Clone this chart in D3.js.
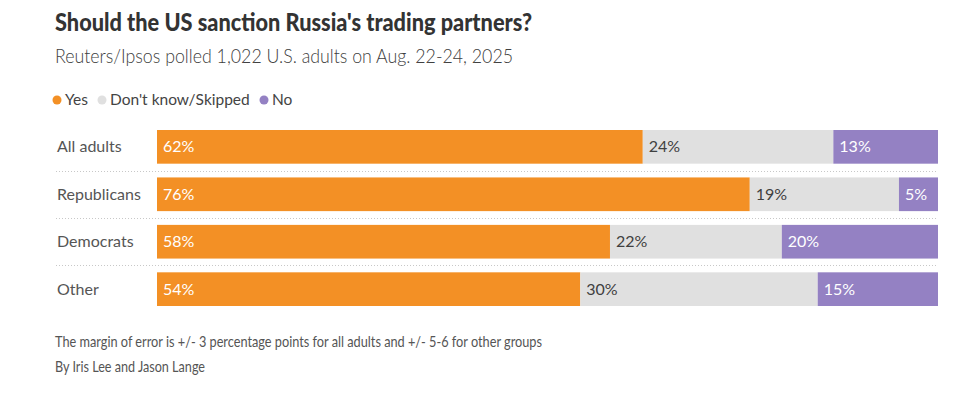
<!DOCTYPE html>
<html>
<head>
<meta charset="utf-8">
<script src="https://cdn.jsdelivr.net/npm/d3@7"></script>
<style>
  body { margin: 0; background: #fff; }
  text { font-family: Lato, "Open Sans", sans-serif; }
</style>
</head>
<body>
<div id="chart"></div>
<script>
// Poll data (shares, labels are the rounded numbers)
var groups = ["All adults", "Republicans", "Democrats", "Other"];
var yes = [62.2, 75.9, 58.0, 54.2];
var dontKnow = [24.4, 19.1, 22.0, 30.4];
var no = [13.4, 5.0, 20.0, 15.4];
var seriesNames = ["Yes", "Don't know/Skipped", "No"];
var seriesColors = ["#f39025", "#e0e0e0", "#9481c3"];
var labelColors = ["#ffffff", "#404040", "#ffffff"];

var svgWidth = 980;
var svgHeight = 395;

var svg = d3.select("#chart")
  .append("svg")
  .attr("width", svgWidth)
  .attr("height", svgHeight);

// Title + subtitle (the original font is narrower, so squeeze to its width)
svg.append("text")
  .attr("x", 55).attr("y", 31)
  .attr("font-size", "24px")
  .attr("font-weight", 900)
  .attr("fill", "#333")
  .attr("textLength", 477)
  .attr("lengthAdjust", "spacingAndGlyphs")
  .text("Should the US sanction Russia's trading partners?");

svg.append("text")
  .attr("x", 55).attr("y", 63)
  .attr("font-size", "20px")
  .attr("font-weight", 300)
  .attr("fill", "#404040")
  .attr("textLength", 458)
  .attr("lengthAdjust", "spacingAndGlyphs")
  .text("Reuters/Ipsos polled 1,022 U.S. adults on Aug. 22-24, 2025");

// Legend
var legendX = [57, 102, 264];
var legend = svg.append("g").selectAll("g")
  .data(seriesNames)
  .enter()
  .append("g")
  .attr("transform", function(d, i) { return "translate(" + legendX[i] + ",100)"; });

legend.append("circle")
  .attr("r", 4.5)
  .attr("fill", function(d, i) { return seriesColors[i]; });

legend.append("text")
  .attr("x", 8)
  .attr("dy", "0.35em")
  .attr("font-size", "15.5px")
  .attr("fill", "#444")
  .text(function(d) { return d; });

// Scales
var xScale = d3.scaleLinear().domain([0, 100]).range([157, 938]);
var yScale = d3.scaleBand().domain(groups).range([130, 306]).paddingInner(0.29).paddingOuter(0);

var rows = groups.map(function(g, i) {
  return { group: g, yes: yes[i], dk: dontKnow[i], no: no[i] };
});
var stack = d3.stack().keys(["yes", "dk", "no"]);
var stacked = stack(rows);

// Dotted separators between rows
var gap = yScale.step() - yScale.bandwidth();
svg.append("g").selectAll("line")
  .data(groups.slice(0, -1))
  .enter()
  .append("line")
  .attr("x1", 56)
  .attr("x2", xScale(100))
  .attr("y1", function(d) { return Math.round(yScale(d) + yScale.bandwidth() + gap / 2) + 0.5; })
  .attr("y2", function(d) { return Math.round(yScale(d) + yScale.bandwidth() + gap / 2) + 0.5; })
  .attr("stroke", "#c8c8c8")
  .attr("stroke-width", 1)
  .attr("stroke-dasharray", "1,2");

// Row labels
svg.append("g").selectAll("text")
  .data(groups)
  .enter()
  .append("text")
  .attr("x", 57)
  .attr("y", function(d) { return yScale(d) + yScale.bandwidth() / 2; })
  .attr("dy", "0.35em")
  .attr("font-size", "16px")
  .attr("fill", "#555")
  .text(function(d) { return d; });

// Bars
var layers = svg.append("g").selectAll("g")
  .data(stacked)
  .enter()
  .append("g")
  .attr("fill", function(d, i) { return seriesColors[i]; });

layers.selectAll("rect")
  .data(function(d) { return d; })
  .enter()
  .append("rect")
  .attr("x", function(d) { return xScale(d[0]); })
  .attr("y", function(d) { return yScale(d.data.group); })
  .attr("width", function(d) { return xScale(d[1]) - xScale(d[0]); })
  .attr("height", yScale.bandwidth());

// Value labels
layers.each(function(layer, li) {
  d3.select(this).selectAll("text")
    .data(layer)
    .enter()
    .append("text")
    .attr("x", function(d) { return xScale(d[0]) + 6; })
    .attr("y", function(d) { return yScale(d.data.group) + yScale.bandwidth() / 2; })
    .attr("dy", "0.35em")
    .attr("font-size", "16px")
    .attr("fill", labelColors[li])
    .text(function(d) { return Math.round(d[1] - d[0]) + "%"; });
});

// Footnotes
svg.append("text")
  .attr("x", 55).attr("y", 347)
  .attr("font-size", "15px")
  .attr("fill", "#555")
  .attr("textLength", 487)
  .attr("lengthAdjust", "spacingAndGlyphs")
  .text("The margin of error is +/- 3 percentage points for all adults and +/- 5-6 for other groups");

svg.append("text")
  .attr("x", 55).attr("y", 372)
  .attr("font-size", "15px")
  .attr("fill", "#555")
  .attr("textLength", 150)
  .attr("lengthAdjust", "spacingAndGlyphs")
  .text("By Iris Lee and Jason Lange");
</script>
</body>
</html>
